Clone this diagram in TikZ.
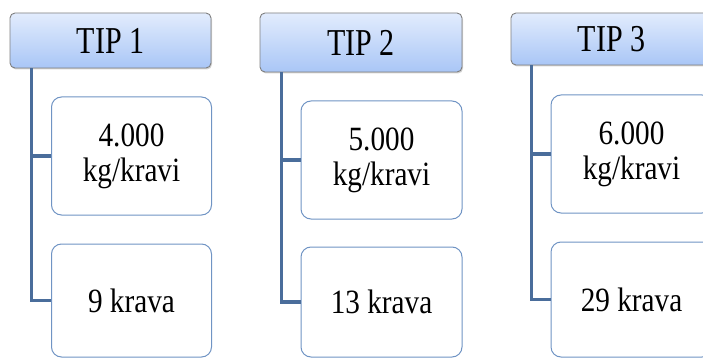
\documentclass[tikz,border=0pt]{standalone}
\usepackage{graphicx}
\usepackage{fontspec}
\setmainfont{Liberation Serif}
\usetikzlibrary{shadows}
\definecolor{hdrtop}{HTML}{E2ECFD}
\definecolor{hdrbot}{HTML}{A9C6F6}
\definecolor{hdrline}{HTML}{7F7F7F}
\definecolor{boxline}{HTML}{7094C4}
\definecolor{conn}{HTML}{4A6D9B}
\newcommand\sqh[1]{\scalebox{0.79}[1]{#1}}
\newcommand\sqb[1]{\scalebox{0.86}[1]{#1}}
\tikzset{
  hdr/.style={draw=hdrline, line width=0.9pt, rounded corners=5pt,
    top color=hdrtop, bottom color=hdrbot, minimum width=201pt,
    drop shadow={opacity=0.35, shadow xshift=1pt, shadow yshift=-1.5pt},
    font=\fontsize{38}{40}\selectfont, inner sep=0pt},
  itembox/.style={draw=boxline, line width=1pt, rounded corners=10pt, fill=white,
    minimum width=160pt, align=center, inner sep=0pt,
    font=\fontsize{34}{35}\selectfont},
  conline/.style={draw=conn, line width=3.3pt}
}
\begin{document}
\begin{tikzpicture}[x=1pt,y=-1pt]
\useasboundingbox (0,0) rectangle (703,358);
\clip (0,0) rectangle (703,358);
% column 1
\node[hdr, minimum height=55pt] (h1) at (110.5,40.5) {\sqh{TIP 1}};
\node[itembox, minimum height=118pt] (b11) at (131.5,156) {\sqb{4.000}\\\sqb{kg/kravi}};
\node[itembox, minimum height=113pt] (b12) at (131.5,300.5) {\sqb{9 krava}};
% column 2
\node[hdr, minimum height=59pt, minimum width=202pt] (h2) at (361,42.5) {\sqh{TIP 2}};
\node[itembox, minimum height=118pt, minimum width=161pt] (b21) at (381.5,160) {\sqb{5.000}\\\sqb{kg/kravi}};
\node[itembox, minimum height=110pt, minimum width=161pt] (b22) at (381.5,302) {\sqb{13 krava}};
% column 3
\node[hdr, minimum height=52pt] (h3) at (611.5,39) {\sqh{TIP 3}};
\node[itembox, minimum height=118pt, minimum width=161pt] (b31) at (631.5,154) {\sqb{6.000}\\\sqb{kg/kravi}};
\node[itembox, minimum height=115pt, minimum width=161pt] (b32) at (631.5,299.5) {\sqb{29 krava}};
% connectors
\draw[conline] ([xshift=22pt]h1.south west) |- (b12.west);
\draw[conline] ([xshift=22pt]h1.south west |- b11.west) -- (b11.west);
\draw[conline] ([xshift=22pt]h2.south west) |- (b22.west);
\draw[conline] ([xshift=22pt]h2.south west |- b21.west) -- (b21.west);
\draw[conline] ([xshift=21pt]h3.south west) |- (b32.west);
\draw[conline] ([xshift=21pt]h3.south west |- b31.west) -- (b31.west);
\end{tikzpicture}
\end{document}
